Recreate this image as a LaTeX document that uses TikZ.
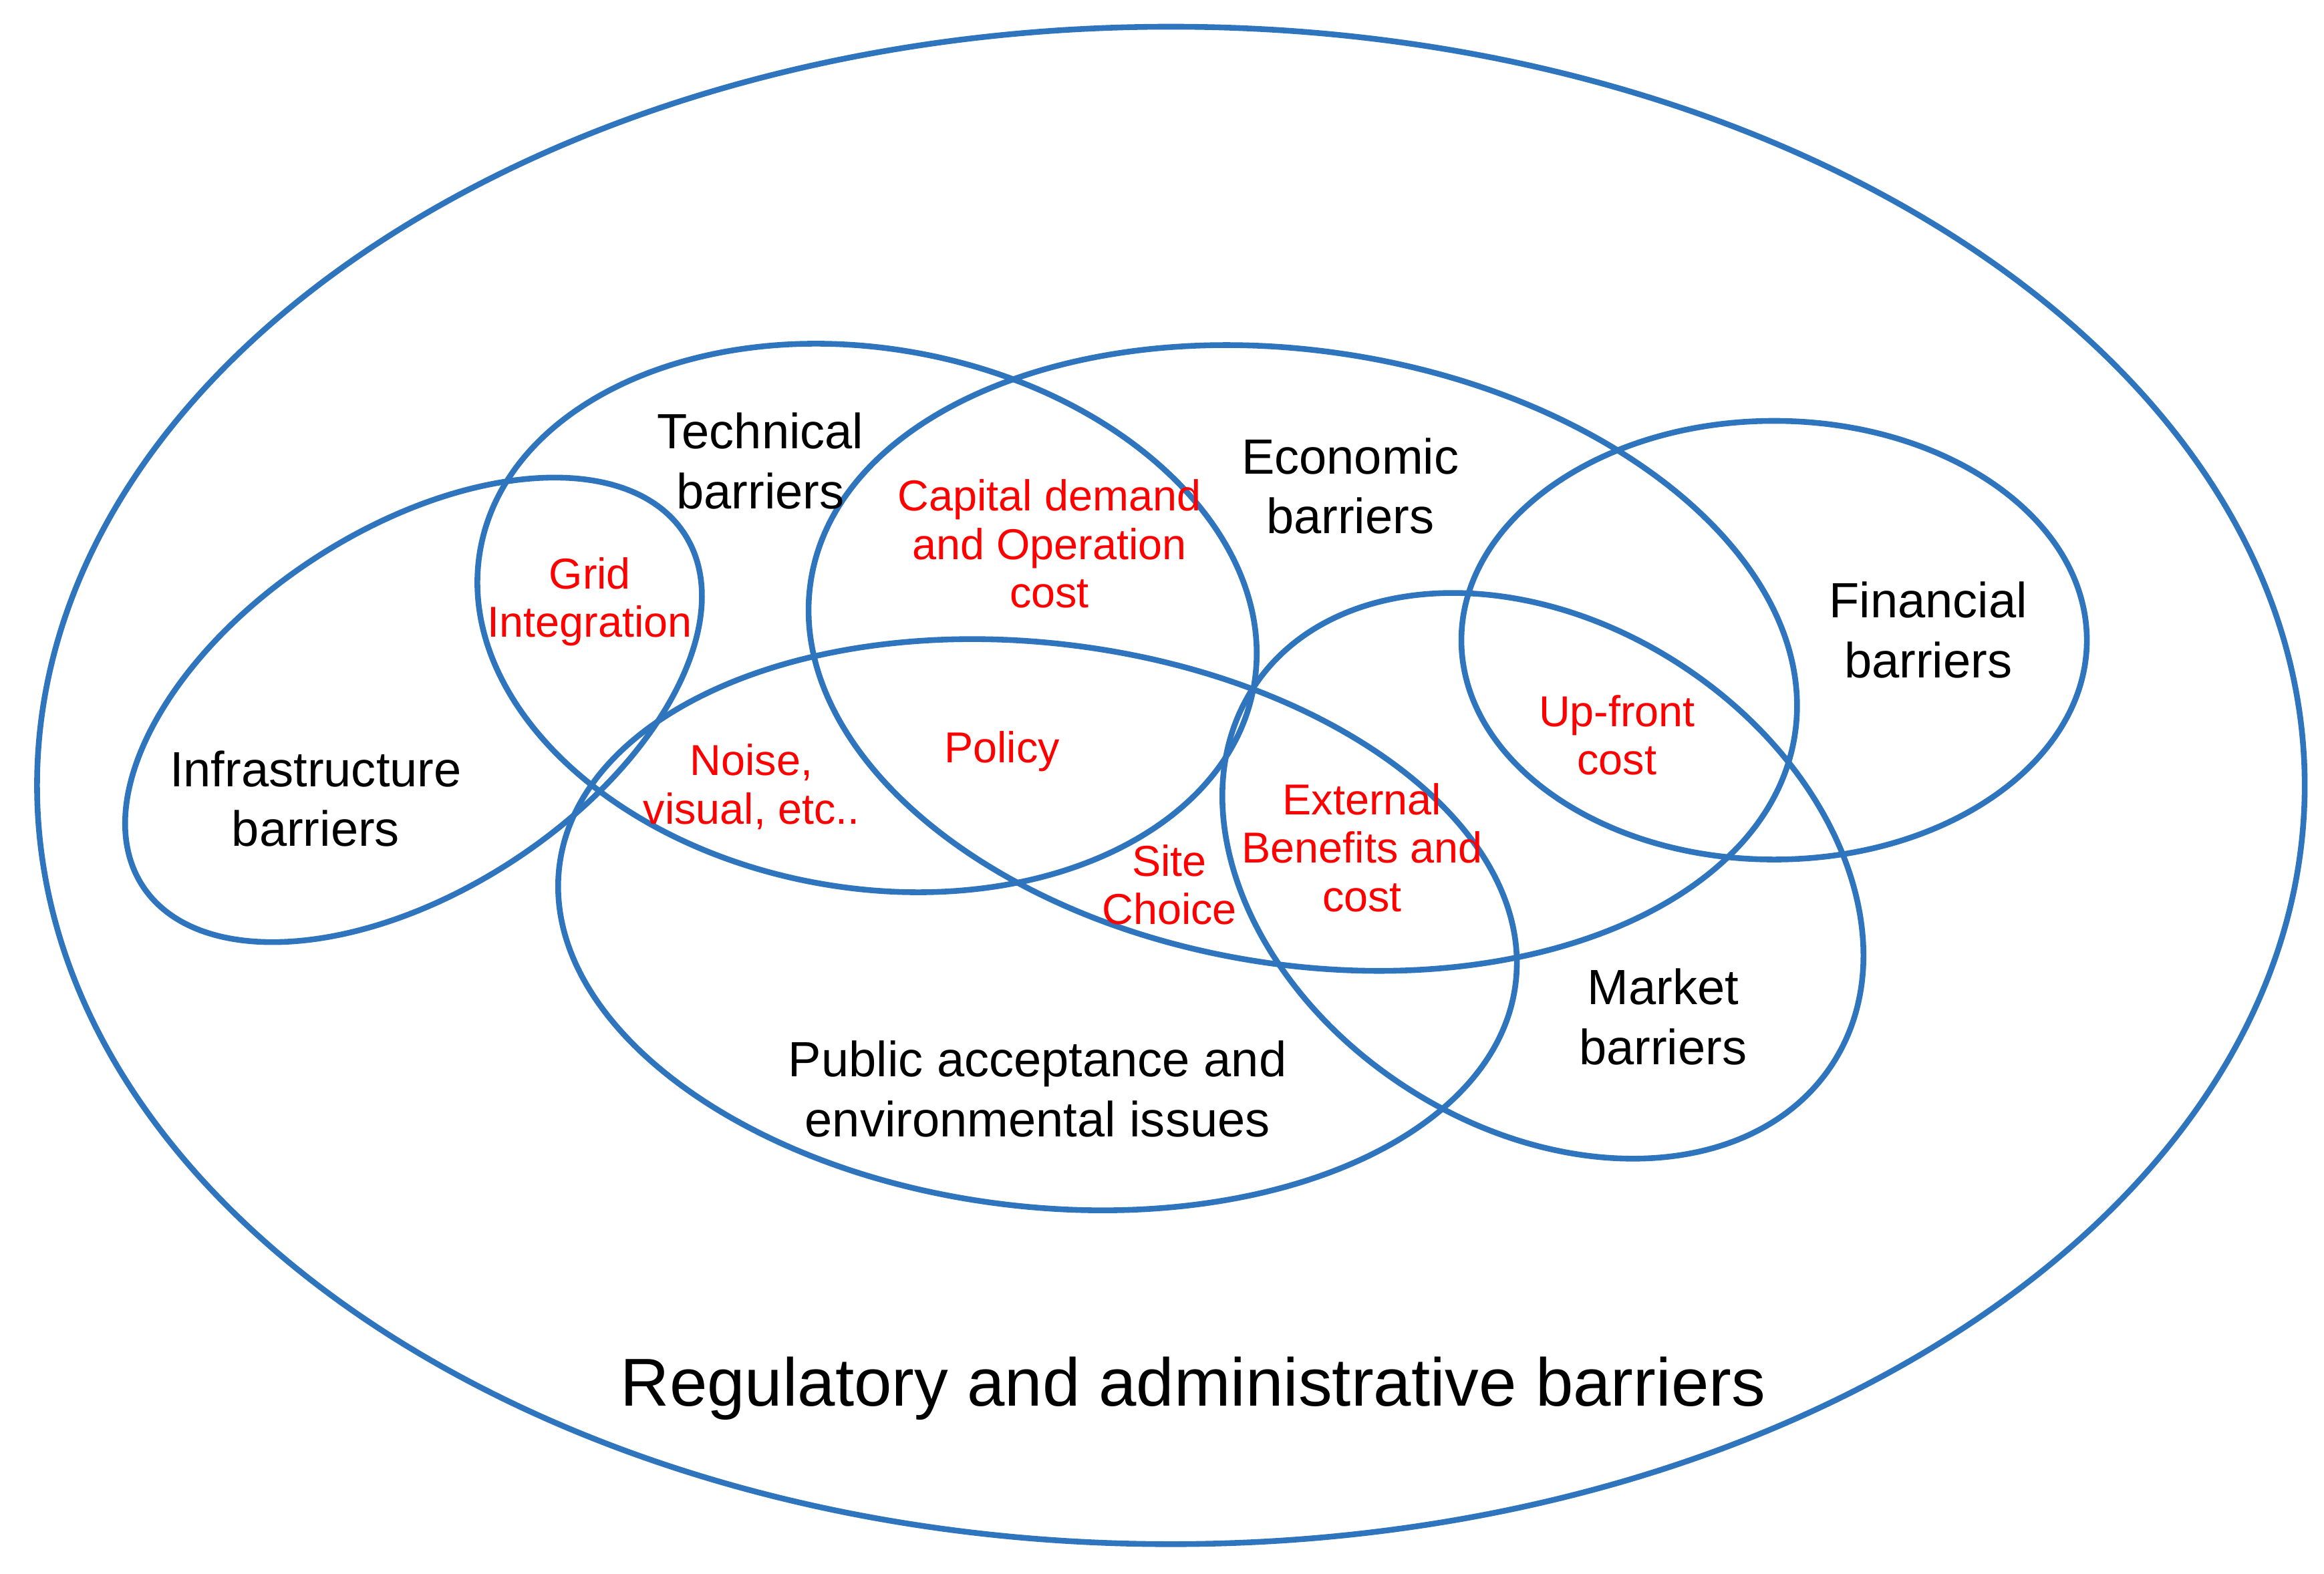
\documentclass[tikz,border=0pt]{standalone}
\usepackage{fontspec}
\setmainfont{Liberation Sans}
\definecolor{eb}{RGB}{46,117,190}
\begin{document}
\begin{tikzpicture}[x=0.01cm,y=-0.01cm,
  ell/.style={draw=eb,line width=1.1pt},
  blk/.style={align=center,font=\fontsize{9.5}{11.5}\selectfont,text=black},
  red/.style={align=center,font=\fontsize{8.3}{9.3}\selectfont,text=red}]
\useasboundingbox (0,0) rectangle (1568,1062);
\draw[ell] (790,530) ellipse [x radius=765,y radius=512];
\draw[ell] (279,479) ellipse [x radius=218,y radius=122,rotate=33];
\draw[ell] (585,417) ellipse [x radius=265,y radius=182,rotate=-10];
\draw[ell] (879,444) ellipse [x radius=336,y radius=207,rotate=-9];
\draw[ell] (1197,432) ellipse [x radius=211,y radius=148];
\draw[ell] (1041,591) ellipse [x radius=233,y radius=170,rotate=-33];
\draw[ell] (700,624) ellipse [x radius=325,y radius=190,rotate=-7];
\node[blk] (tech) at (513,311) {Technical\\barriers};
\node[blk] (econ) at (911,328) {Economic\\barriers};
\node[blk] (fin) at (1301,425) {Financial\\barriers};
\node[blk] (infra) at (213,539) {Infrastructure\\barriers};
\node[blk] (mkt) at (1122,686) {Market\\barriers};
\node[blk] (pub) at (700,735) {Public acceptance and\\environmental issues};
\node[font=\fontsize{13}{15}\selectfont] (reg) at (805,937) {Regulatory and administrative barriers};
\node[red] (grid) at (398,406) {Grid\\Integration};
\node[red] (cap) at (708,367) {Capital demand\\and Operation\\cost};
\node[red] (pol) at (676,507) {Policy};
\node[red] (noise) at (507,531) {Noise,\\visual, etc..};
\node[red] (site) at (789,597) {Site\\Choice};
\node[red] (ext) at (919,572) {External\\Benefits and\\cost};
\node[red] (up) at (1091,496) {Up-front\\cost};
\end{tikzpicture}
\end{document}
